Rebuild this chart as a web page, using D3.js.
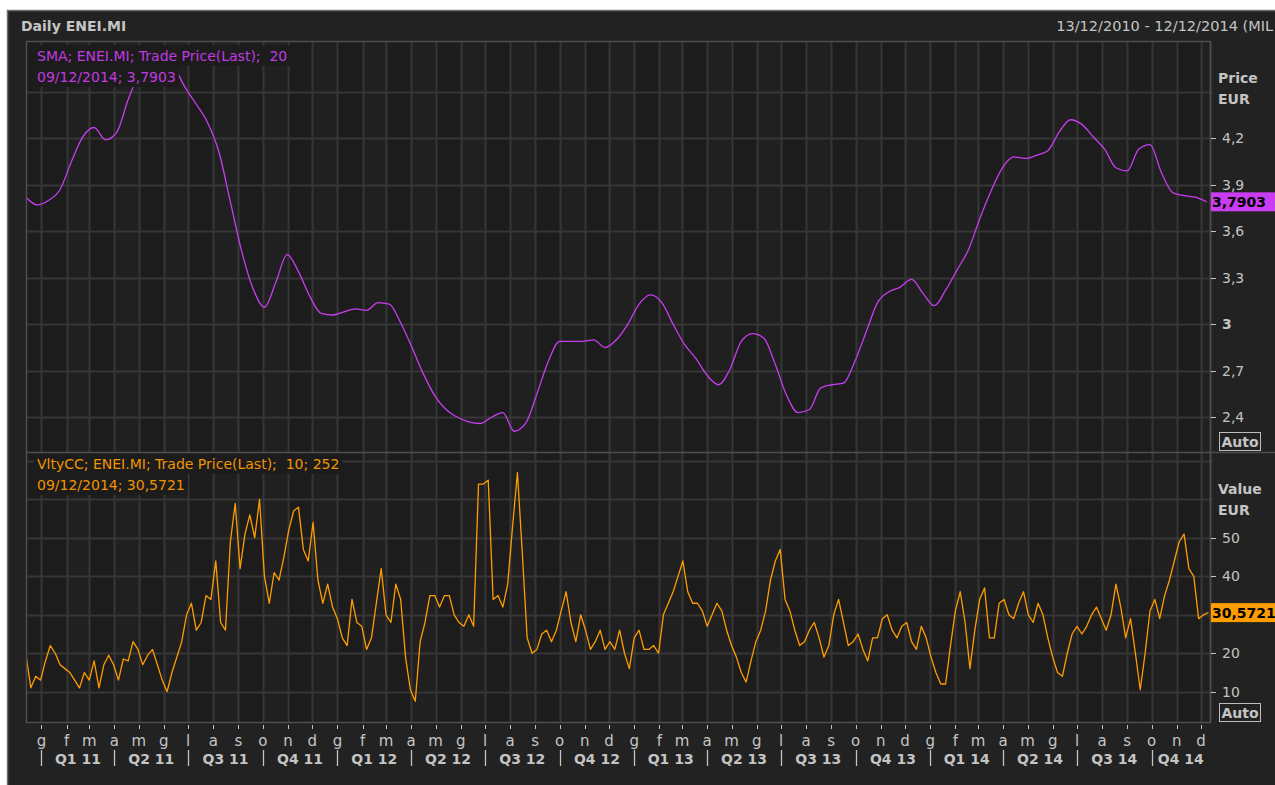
<!DOCTYPE html>
<html>
<head>
<meta charset="utf-8">
<script src="https://cdn.jsdelivr.net/npm/d3@7"></script>
<style>
  html, body { margin: 0; padding: 0; background: #fff; overflow: hidden; }
  svg { display: block; font-family: "DejaVu Sans", "Liberation Sans", sans-serif; }
  text { white-space: pre; }
</style>
</head>
<body>
<svg id="chart" width="1275" height="785"></svg>
<script>
// ---- data ----
const START = new Date(2010, 11, 13);
const END = new Date(2014, 11, 12);
const HEADER_RANGE = '13/12/2010 - 12/12/2014 (MIL';

// 20-day SMA of ENEI.MI, one reading every 14 days from START
const SMA_STEP_DAYS = 14;
const smaValues = [
  3.82, 3.77, 3.80, 3.87, 4.05, 4.21, 4.27, 4.19, 4.24, 4.45,
  4.62, 4.69, 4.76, 4.67, 4.53, 4.42, 4.30, 4.11, 3.79, 3.47,
  3.23, 3.11, 3.27, 3.45, 3.34, 3.18, 3.07, 3.06, 3.08, 3.10,
  3.09, 3.14, 3.13, 3.01, 2.85, 2.68, 2.54, 2.45, 2.40, 2.37,
  2.36, 2.40, 2.43, 2.31, 2.36, 2.55, 2.76, 2.89, 2.89, 2.89,
  2.90, 2.85, 2.90, 3.00, 3.13, 3.19, 3.14, 3.00, 2.87, 2.78,
  2.67, 2.61, 2.71, 2.89, 2.94, 2.91, 2.74, 2.54, 2.43, 2.45,
  2.59, 2.61, 2.62, 2.76, 2.95, 3.14, 3.21, 3.24, 3.29, 3.20,
  3.12, 3.22, 3.35, 3.48, 3.68, 3.86, 4.01, 4.08, 4.07, 4.09,
  4.12, 4.24, 4.32, 4.29, 4.21, 4.13, 4.01, 3.99, 4.13, 4.16,
  3.98, 3.85, 3.83, 3.82, 3.79
];

// Volatility (close-to-close, 10; 252), one reading every 6 days from START
const VOL_STEP_DAYS = 6;
const volValues = [
  19.5, 11, 14, 13, 18, 22, 20, 17, 16, 15,
  13, 11, 15, 13, 18, 11, 17, 19.5, 17, 13,
  18.5, 18, 23, 21, 17, 19.5, 21, 17, 13, 10,
  15, 19, 23, 30, 33, 26, 28, 35, 34, 44,
  28, 26, 49, 59, 42, 51, 56, 50, 60, 40,
  33, 41, 39, 45, 52, 57, 58, 47, 44, 54,
  39, 33, 38, 32, 29, 24, 22, 34, 28, 27,
  21, 24, 33, 42, 30, 28, 38, 34, 19, 10.5,
  7.5, 23, 28, 35, 35, 32, 35, 35, 30, 28,
  27, 30, 27, 64, 64, 65, 34, 35, 32, 38,
  53, 67, 46, 24, 20, 21, 25, 26, 23, 26,
  31, 36, 28, 23, 30, 26, 21, 23, 26, 21,
  23, 21, 26, 20, 16, 24, 26, 21, 21, 22,
  20, 30, 33, 36, 40, 44, 36, 33, 33, 31,
  27, 30, 33, 31, 26, 22, 19, 15, 12.5, 18,
  23, 26, 31, 39, 44, 47, 34, 31, 26, 22,
  23, 26, 28, 24, 19, 22, 30, 34, 28, 22,
  23, 25, 21, 18, 24, 24, 29, 30, 26, 24,
  27, 28, 23, 21, 27, 24, 19, 15, 12, 12,
  22, 31, 36, 28, 16, 26, 34, 37, 24, 24,
  33, 34, 30, 29, 33, 36, 30, 28, 33, 30,
  24, 19, 15, 14, 20, 25, 27, 25, 27, 30,
  32, 29, 26, 30, 38, 32, 24, 29, 20, 10.5,
  20, 31, 34, 29, 35, 39, 44, 49, 51, 42,
  40, 29, 30, 30.6
];

const priceTicks = [2.4, 2.7, 3, 3.3, 3.6, 3.9, 4.2, 4.5];
const priceLabels = [2.4, 2.7, 3, 3.3, 3.6, 3.9, 4.2];
const valueTicks = [10, 20, 30, 40, 50, 60, 70];
const valueLabels = [10, 20, 40, 50];
const monthLetters = ['g', 'f', 'm', 'a', 'm', 'g', 'l', 'a', 's', 'o', 'n', 'd'];

const smaLegend = ['SMA; ENEI.MI; Trade Price(Last);  20', '09/12/2014; 3,7903'];
const volLegend = ['VltyCC; ENEI.MI; Trade Price(Last);  10; 252', '09/12/2014; 30,5721'];
const lastSma = 3.7903;
const lastVol = 30.5721;

// ---- layout ----
const COL = {
  panel: '#222222', plot: '#1c1c1c', band: '#202020', grid: '#363636',
  frame: '#4e4e4e', text: '#c4c4c4', sma: '#c93cf2', smaText: '#c23ae0',
  vol: '#ff9c00', volText: '#f09400'
};
const X0 = 26, X1 = 1210;
const TOP = { y0: 41, y1: 452 };
const BOT = { y0: 452, y1: 722 };

const it = d3.formatLocale({ decimal: ',', thousands: '.', grouping: [3], currency: ['', ''] });
const fmt = it.format('~g');
const fmt4 = it.format('.4f');

const svg = d3.select('#chart');

const x = d3.scaleTime().domain([START, END]).range([X0, X1]);
const yPrice = d3.scaleLinear().domain([2.176, 4.828]).range([TOP.y1, TOP.y0]);
const yValue = d3.scaleLinear().domain([2.12, 72.34]).range([BOT.y1, BOT.y0]);

const smaData = smaValues.map((v, i) => ({ date: d3.timeDay.offset(START, i * SMA_STEP_DAYS), v }));
const volData = volValues.map((v, i) => ({ date: d3.timeDay.offset(START, i * VOL_STEP_DAYS), v }));
const months = d3.timeMonth.range(d3.timeMonth.ceil(START), END);
const quarters = months.filter(d => d.getMonth() % 3 === 0);

// panel background
svg.append('rect').attr('x', 7).attr('y', 10).attr('width', 1268).attr('height', 775).attr('fill', COL.panel);
svg.append('path').attr('d', 'M7.5,785V10.5H1275').attr('fill', 'none').attr('stroke', '#707070').attr('stroke-width', 1.5);

svg.append('text').attr('x', 21).attr('y', 31).attr('fill', COL.text)
  .style('font-size', '14px').style('font-weight', 'bold').text('Daily ENEI.MI');
svg.append('text').attr('x', 1273).attr('y', 31).attr('text-anchor', 'end').attr('fill', COL.text)
  .style('font-size', '14.5px').text(HEADER_RANGE);

// plot background with month bands
const plot = svg.append('g');
plot.append('rect').attr('x', X0).attr('y', TOP.y0).attr('width', X1 - X0).attr('height', BOT.y1 - TOP.y0).attr('fill', COL.plot);
plot.selectAll('.band')
  .data(months.filter((d, i) => i % 2 === 1))
  .enter().append('rect')
  .attr('x', d => x(d))
  .attr('y', TOP.y0)
  .attr('width', d => Math.min(X1, x(d3.timeMonth.offset(d, 1))) - x(d))
  .attr('height', BOT.y1 - TOP.y0)
  .attr('fill', COL.band);

// gridlines
plot.selectAll('.vgrid')
  .data(months)
  .enter().append('line')
  .attr('x1', d => Math.round(x(d)) + 0.5).attr('x2', d => Math.round(x(d)) + 0.5)
  .attr('y1', TOP.y0).attr('y2', BOT.y1)
  .attr('stroke', COL.grid).attr('stroke-width', 2);

plot.selectAll('.pgrid')
  .data(priceTicks)
  .enter().append('line')
  .attr('x1', X0).attr('x2', X1 + 3)
  .attr('y1', d => Math.round(yPrice(d)) + 0.5).attr('y2', d => Math.round(yPrice(d)) + 0.5)
  .attr('stroke', COL.grid).attr('stroke-width', 2);

plot.selectAll('.vgrid2')
  .data(valueTicks)
  .enter().append('line')
  .attr('x1', X0).attr('x2', X1 + 3)
  .attr('y1', d => Math.round(yValue(d)) + 0.5).attr('y2', d => Math.round(yValue(d)) + 0.5)
  .attr('stroke', COL.grid).attr('stroke-width', 2);

// clip paths for the two panes
const defs = svg.append('defs');
defs.append('clipPath').attr('id', 'clipTop').append('rect')
  .attr('x', X0).attr('y', TOP.y0).attr('width', X1 - X0).attr('height', TOP.y1 - TOP.y0);
defs.append('clipPath').attr('id', 'clipBot').append('rect')
  .attr('x', X0).attr('y', BOT.y0).attr('width', X1 - X0).attr('height', BOT.y1 - BOT.y0);

// series
svg.append('path')
  .datum(smaData)
  .attr('clip-path', 'url(#clipTop)')
  .attr('fill', 'none')
  .attr('stroke', COL.sma)
  .attr('stroke-width', 1.3)
  .attr('d', d3.line().x(d => x(d.date)).y(d => yPrice(d.v)).curve(d3.curveMonotoneX));

svg.append('path')
  .datum(volData)
  .attr('clip-path', 'url(#clipBot)')
  .attr('fill', 'none')
  .attr('stroke', COL.vol)
  .attr('stroke-width', 1.3)
  .attr('stroke-linejoin', 'round')
  .attr('d', d3.line().x(d => x(d.date)).y(d => yValue(d.v)));

// legends: text boxes hide the grid behind them
function legend(lines, y, color) {
  const g = svg.append('g');
  lines.forEach((t, i) => {
    const txt = g.append('text')
      .attr('x', 37).attr('y', y + i * 21)
      .attr('fill', color).style('font-size', '14px').text(t);
    const bb = txt.node().getBBox();
    g.insert('rect', 'text')
      .attr('x', 34).attr('y', y + i * 21 - 16)
      .attr('width', bb.width + 6).attr('height', 21)
      .attr('fill', COL.plot);
  });
}
legend(smaLegend, 61, COL.smaText);
legend(volLegend, 469, COL.volText);

// frame and pane divider
svg.append('rect').attr('x', X0 + 0.5).attr('y', TOP.y0 + 0.5).attr('width', X1 - X0).attr('height', BOT.y1 - TOP.y0)
  .attr('fill', 'none').attr('stroke', COL.frame).attr('stroke-width', 1.5);
svg.append('line').attr('x1', X0).attr('x2', 1275).attr('y1', TOP.y1 + 0.5).attr('y2', TOP.y1 + 0.5)
  .attr('stroke', COL.frame).attr('stroke-width', 1.5);

// right axes
function rightAxis(scale, ticks, labels, y0, y1, boldInts) {
  const g = svg.append('g');
  g.append('line').attr('x1', X1 + 0.5).attr('x2', X1 + 0.5).attr('y1', y0).attr('y2', y1)
    .attr('stroke', COL.frame).attr('stroke-width', 1.5);
  g.selectAll('.tick')
    .data(ticks)
    .enter().append('line')
    .attr('x1', X1 + 1).attr('x2', X1 + 6)
    .attr('y1', d => Math.round(scale(d)) + 0.5).attr('y2', d => Math.round(scale(d)) + 0.5)
    .attr('stroke', COL.text);
  g.selectAll('.lbl')
    .data(labels)
    .enter().append('text')
    .attr('x', X1 + 12)
    .attr('y', d => scale(d) + 5)
    .attr('fill', COL.text)
    .style('font-size', '14px')
    .style('font-weight', d => boldInts && Number.isInteger(d) ? 'bold' : 'normal')
    .text(d => fmt(d));
}
rightAxis(yPrice, priceLabels, priceLabels, TOP.y0, TOP.y1, true);
rightAxis(yValue, valueTicks.filter(d => d <= 50), valueLabels, BOT.y0, BOT.y1, false);

function unitLabel(lines, y) {
  lines.forEach((t, i) => svg.append('text')
    .attr('x', 1218).attr('y', y + i * 21)
    .attr('fill', COL.text).style('font-size', '14px').style('font-weight', 'bold').text(t));
}
unitLabel(['Price', 'EUR'], 83);
unitLabel(['Value', 'EUR'], 494);

function autoBox(y) {
  svg.append('rect').attr('x', 1219.5).attr('y', y + 0.5).attr('width', 41).attr('height', 18)
    .attr('fill', 'none').attr('stroke', '#bdbdbd');
  svg.append('text').attr('x', 1240).attr('y', y + 15).attr('text-anchor', 'middle')
    .attr('fill', COL.text).style('font-size', '14px').style('font-weight', 'bold').text('Auto');
}
autoBox(432);
autoBox(703);

// last-value badges
function badge(yv, label, color) {
  svg.append('rect').attr('x', X1 + 1).attr('y', yv - 9.5).attr('width', 1275 - X1).attr('height', 19).attr('fill', color);
  svg.append('text').attr('x', X1 + 2).attr('y', yv + 5.5).attr('fill', '#000')
    .style('font-size', '14px').style('font-weight', 'bold').text(label);
}
badge(yPrice(lastSma), fmt4(lastSma), COL.sma);
badge(yValue(lastVol), fmt4(lastVol), COL.vol);

// x axis: month letters and quarter labels
const xa = svg.append('g');
xa.selectAll('.mt')
  .data(months)
  .enter().append('line')
  .attr('x1', d => Math.round(x(d)) + 0.5).attr('x2', d => Math.round(x(d)) + 0.5)
  .attr('y1', 725).attr('y2', 729)
  .attr('stroke', COL.text);
xa.selectAll('.ml')
  .data(months)
  .enter().append('text')
  .attr('x', d => x(d)).attr('y', 746)
  .attr('text-anchor', 'middle')
  .attr('fill', COL.text).style('font-size', '15px')
  .text(d => monthLetters[d.getMonth()]);
xa.selectAll('.qs')
  .data(quarters)
  .enter().append('line')
  .attr('x1', d => Math.round(x(d)) + 0.5).attr('x2', d => Math.round(x(d)) + 0.5)
  .attr('y1', 750).attr('y2', 766)
  .attr('stroke', COL.text).attr('stroke-width', 1.3);
xa.selectAll('.ql')
  .data(quarters)
  .enter().append('text')
  .attr('x', d => (x(d) + Math.min(X1, x(d3.timeMonth.offset(d, 3)))) / 2)
  .attr('y', 764)
  .attr('text-anchor', 'middle')
  .attr('fill', COL.text).style('font-size', '14px').style('font-weight', 'bold')
  .text(d => `Q${d.getMonth() / 3 + 1} ${String(d.getFullYear()).slice(2)}`);
</script>
</body>
</html>
